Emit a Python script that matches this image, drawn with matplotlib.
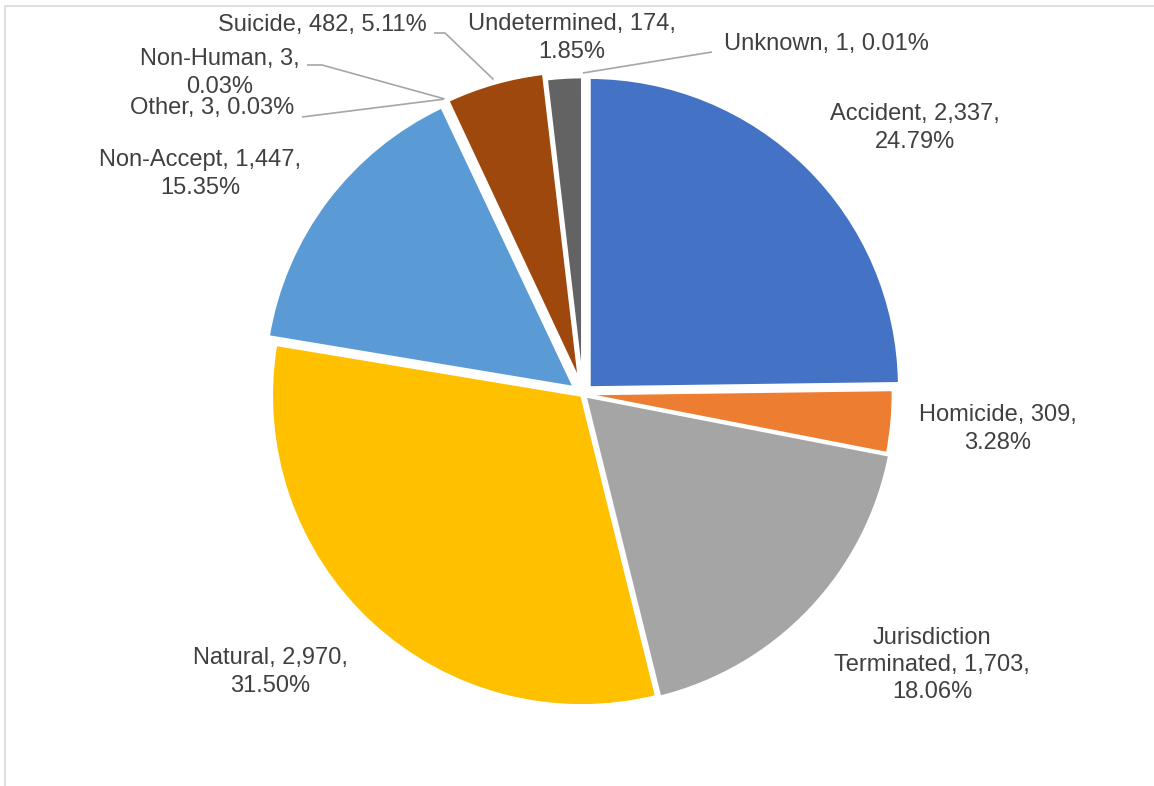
import numpy as np
import matplotlib.pyplot as plt
from matplotlib.patches import Rectangle

plt.rcParams['font.family'] = ['Liberation Sans', 'DejaVu Sans']

categories = ['Accident', 'Homicide', 'Jurisdiction Terminated', 'Natural',
              'Non-Accept', 'Other', 'Non-Human', 'Suicide', 'Undetermined',
              'Unknown']
counts = [2337, 309, 1703, 2970, 1447, 3, 3, 482, 174, 1]
colors = ['#4472C4', '#ED7D31', '#A5A5A5', '#FFC000', '#5B9BD5',
          '#70AD47', '#264478', '#9E480E', '#636363', '#997300']

# label text wrapping (Excel-style data labels)
label_fmt = ['{n}, {v},\n{p}', '{n}, {v},\n{p}', 'Jurisdiction\nTerminated, {v},\n{p}',
             '{n}, {v},\n{p}', '{n}, {v},\n{p}', '{n}, {v}, {p}', '{n}, {v},\n{p}',
             '{n}, {v}, {p}', '{n}, {v},\n{p}', '{n}, {v}, {p}']

# label centres in pixel coords (y measured from the top)
label_xy = [(915, 128), (998, 429), (932, 665), (270, 672), (200, 174),
            (212, 108), (220, 73), (322, 25), (572, 38), (826, 44)]
# leader lines: (start at text, elbow) for labels that sit away from the pie
leaders = {5: [(302, 117), (302, 117)],
           6: [(307, 65), (322, 65)],
           7: [(434, 33), (445, 33)],
           9: [(712, 52), (712, 52)]}
# per-slice pull-out distance in pixels
pull = [9, 0, 3, 2, 11, 12, 12, 13, 7, 7]

W, H = 1154, 786
fig = plt.figure(figsize=(W / 100, H / 100), dpi=100)
ax = fig.add_axes([0, 0, 1, 1])

# chart border
ax.add_patch(Rectangle((4.5, -20), 1300, H - 5.5 + 20, fill=False,
                       edgecolor='#D9D9D9', linewidth=1.2))

# pie drawn in pixel units; explode is an absolute offset here
cx, cy, R = 583, H - 394, 310
wedges, _ = ax.pie(counts, colors=colors, startangle=90, counterclock=False,
                   radius=R, center=(cx, cy), explode=pull,
                   wedgeprops=dict(edgecolor='white', linewidth=2),
                   frame=True)
ax.set_xlim(0, W)
ax.set_ylim(0, H)
ax.set_aspect('equal')
ax.axis('off')

total = sum(counts)
for i, (name, v) in enumerate(zip(categories, counts)):
    txt = label_fmt[i].format(n=name, v=f'{v:,}', p=f'{v / total * 100:.2f}%')
    x, y = label_xy[i]
    ax.text(x, H - y, txt, ha='center', va='center', fontsize=17,
            color='#404040', linespacing=1.3)
    if i in leaders:
        w = wedges[i]
        ang = np.deg2rad((w.theta1 + w.theta2) / 2)
        ex = w.center[0] + (w.r + 4) * np.cos(ang)
        ey = w.center[1] + (w.r + 4) * np.sin(ang)
        (x0, y0), (x1, y1) = leaders[i]
        ax.plot([x0, x1, ex], [H - y0, H - y1, ey], color='#A6A6A6',
                linewidth=1.2, solid_capstyle='butt')

fig.savefig('out.png', dpi=100)
